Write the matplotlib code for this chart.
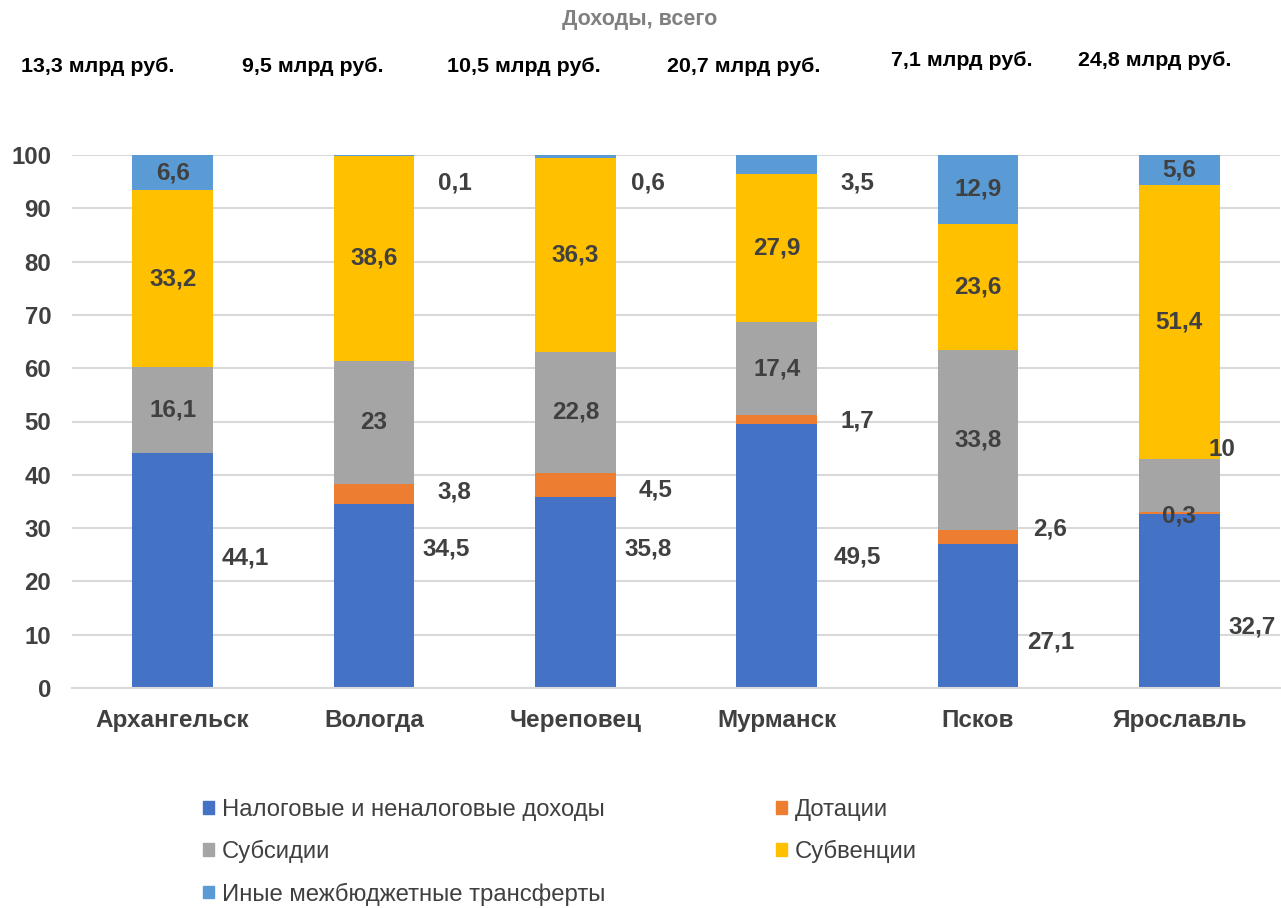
import matplotlib
matplotlib.use("Agg")
from matplotlib import pyplot as plt
from matplotlib.patches import Patch
import numpy as np

plt.rcParams['font.family'] = ['Liberation Sans', 'DejaVu Sans']

cities = ['Архангельск', 'Вологда', 'Череповец', 'Мурманск', 'Псков', 'Ярославль']
tax = [44.1, 34.5, 35.8, 49.5, 27.1, 32.7]
dotations = [0, 3.8, 4.5, 1.7, 2.6, 0.3]
subsidies = [16.1, 23, 22.8, 17.4, 33.8, 10]
subventions = [33.2, 38.6, 36.3, 27.9, 23.6, 51.4]
other = [6.6, 0.1, 0.6, 3.5, 12.9, 5.6]
totals = ['13,3', '9,5', '10,5', '20,7', '7,1', '24,8']

names = ['Налоговые и неналоговые доходы', 'Дотации', 'Субсидии', 'Субвенции',
         'Иные межбюджетные трансферты']
colors = ['#4472C4', '#ED7D31', '#A5A5A5', '#FFC000', '#5B9BD5']
series = [tax, dotations, subsidies, subventions, other]

# label positions that sit outside the bars: (series, city) -> (x shift, y)
moved = {
    (0, 0): (0.36, 24.4), (0, 1): (0.36, 26.1), (0, 2): (0.36, 26.1),
    (0, 3): (0.40, 24.6), (0, 4): (0.36, 8.6), (0, 5): (0.36, 11.4),
    (1, 1): (0.40, 36.8), (1, 2): (0.40, 37.1), (1, 3): (0.40, 50.1),
    (1, 4): (0.36, 29.8), (1, 5): (0.0, 32.3),
    (2, 5): (0.21, 44.7),
    (4, 1): (0.40, 94.7), (4, 2): (0.36, 94.7), (4, 3): (0.40, 94.7),
}

fig = plt.figure(figsize=(12.81, 9.08), dpi=100)
ax = fig.add_axes([72 / 1281, 1 - 688 / 908, 1208 / 1281, 533 / 908])

x = np.arange(len(cities))
bottom = np.zeros(len(cities))
for i, vals in enumerate(series):
    vals = np.array(vals, dtype=float)
    ax.bar(x, vals, 0.4, bottom=bottom, color=colors[i], linewidth=0, zorder=2)
    for j, v in enumerate(vals):
        if v == 0:
            continue
        txt = f"{v:g}".replace('.', ',')
        if (i, j) in moved:
            dx, yy = moved[(i, j)]
            tx = x[j] + dx
        else:
            tx, yy = x[j], bottom[j] + v / 2
        ax.text(tx, yy, txt, ha='center', va='center', fontsize=17.5,
                fontweight='bold', color='#404040', zorder=3)
    bottom += vals

ax.set_xlim(-0.5, 5.5)
ax.set_ylim(0, 100)
ax.set_yticks(np.arange(0, 101, 10))
ax.set_xticks(x)
ax.set_xticklabels(cities, fontsize=17.5, fontweight='bold', color='#404040')
for lab in ax.get_yticklabels():
    lab.set_fontsize(17.3)
    lab.set_fontweight('bold')
    lab.set_color('#404040')
ax.tick_params(axis='y', length=0, pad=15)
ax.tick_params(axis='x', length=0, pad=15)
ax.yaxis.grid(True, color='#D9D9D9', linewidth=1.5, zorder=0)
ax.set_axisbelow(True)
for s in ['top', 'right', 'left']:
    ax.spines[s].set_visible(False)
ax.spines['bottom'].set_color('#D9D9D9')
ax.spines['bottom'].set_linewidth(1.5)

fig.text(640 / 1281, 1 - 20 / 908, 'Доходы, всего', ha='center', va='center',
         fontsize=15.5, fontweight='bold', color='#808080')

top_x = [98, 313, 524, 744, 962, 1155]
top_y = [67, 67, 67, 67, 60, 60]
for t, px, py in zip(totals, top_x, top_y):
    fig.text(px / 1281, 1 - py / 908, t + ' млрд руб.', ha='center', va='center',
             fontsize=15.4, fontweight='bold', color='black')

handles = [Patch(color=c, label=n) for c, n in zip(colors, names)]
order = [0, 2, 4, 1, 3]
fig.legend([handles[k] for k in order], [names[k] for k in order],
           loc='upper left', bbox_to_anchor=(203 / 1281, 1 - 799 / 908),
           ncol=2, frameon=False, fontsize=17.2, handlelength=0.45, handleheight=0.45,
           handletextpad=0.33, columnspacing=7.15, labelspacing=0.8,
           borderaxespad=0, borderpad=0, labelcolor='#404040')

fig.savefig('out.png', dpi=100)
